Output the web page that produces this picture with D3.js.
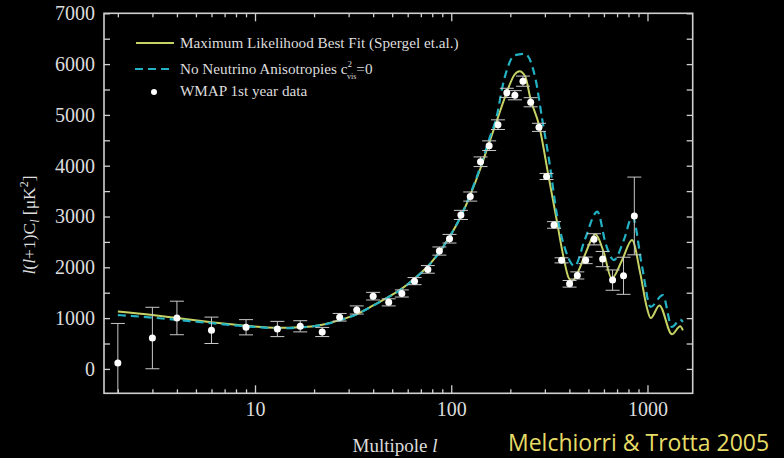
<!DOCTYPE html>
<meta charset="utf-8">
<style>
  body { margin: 0; background: #000; }
  svg { display: block; background: #000; }
  .axis text { font-family: "Liberation Serif", "Times New Roman", serif; font-size: 20px; fill: #ddd; }
  .axis line { stroke: #d0d0d0; stroke-width: 1.3; }
  .axis .domain { display: none; }
  .frame { fill: none; stroke: #d0d0d0; stroke-width: 1.6; }
  .lbl { font-family: "Liberation Serif", "Times New Roman", serif; fill: #ddd; }
  .leg { font-family: "Liberation Serif", "Times New Roman", serif; font-size: 15.2px; fill: #ddd; }
  .credit { font-family: "Open Sans", "Noto Sans", sans-serif; font-size: 23px; fill: #e6dc66; }
  .fit { fill: none; stroke: #c7d264; stroke-width: 2; }
  .nonu { fill: none; stroke: #22b2c4; stroke-width: 2.2; stroke-dasharray: 8 5; }
  .err line { stroke: #c8c8c8; stroke-width: 1; }
  .pts circle { fill: #fff; }
</style>
<body>
<div id="chart"></div>
<script src="https://cdn.jsdelivr.net/npm/d3@7"></script>
<script>
var width = 784, height = 458;
var margin = {left: 104, right: 784 - 692.7, top: 13.3, bottom: 458 - 393.3};

// WMAP 1st year binned points (multipole, l(l+1)Cl, error)
var binL   = [2, 3, 4, 6, 9, 13, 17, 22, 27, 33, 40, 48, 56, 65, 76, 87, 98, 112, 125, 141,
              156, 173, 192, 211, 232, 254, 280, 306, 334, 365, 401, 439, 484, 534, 591, 664, 755, 857];
var binCl  = [115, 608, 1003, 760, 820, 786, 839, 727, 1017, 1160, 1432, 1310, 1485, 1728, 1959, 2320, 2563, 3031, 3393, 4078,
              4394, 4808, 5434, 5387, 5664, 5249, 4755, 3788, 2834, 2137, 1675, 1840, 2137, 2551, 2162, 1748, 1833, 3011];
var binErr = [780, 605, 330, 260, 150, 150, 110, 90, 75, 80, 75, 70, 70, 70, 75, 80, 85, 90, 90, 95,
              95, 95, 90, 90, 100, 90, 80, 60, 65, 50, 65, 70, 65, 110, 150, 200, 365, 765];

// best fit (Spergel et al.)
var fitL  = [2, 3, 4, 6, 9, 13, 17, 22, 27, 33, 40, 48, 56, 65, 76, 87, 98, 112, 125, 141, 156, 173, 192, 210, 223,
             238, 254, 280, 313, 342, 373, 398, 414, 445, 484, 543, 598, 657, 742, 834, 919, 991, 1039, 1150, 1333, 1468, 1515];
var fitCl = [1130, 1060, 1000, 920, 850, 810, 820, 870, 960, 1080, 1250, 1420, 1580, 1780, 2020, 2300, 2600, 3000, 3420, 3950, 4450, 4950, 5450, 5790, 5860,
             5760, 5300, 4800, 3800, 3000, 2210, 1780, 1735, 1930, 2280, 2650, 2300, 1780, 2140, 2540, 1880, 1220, 1000, 1250, 680, 840, 760];

// no neutrino anisotropies, c_vis^2 = 0
var noNuL  = [2, 3, 4, 6, 9, 13, 17, 22, 27, 33, 40, 48, 56, 65, 76, 87, 98, 112, 125, 141, 156, 173, 179, 195, 209, 237,
              269, 291, 315, 347, 385, 425, 480, 555, 614, 674, 760, 837, 940, 1037, 1197, 1333, 1468, 1515];
var noNuCl = [1060, 1010, 965, 900, 840, 800, 815, 865, 955, 1075, 1245, 1415, 1575, 1775, 2015, 2295, 2600, 3010, 3440, 3990, 4520, 5080, 5400, 5960, 6170, 6204,
              5700, 4907, 4117, 3000, 2300, 2024, 2550, 3095, 2450, 2143, 2550, 3000, 2000, 1220, 1451, 826, 971, 925];

var yTicks = d3.range(0, 7001, 500);
var xMajor = [10, 100, 1000];

var x = d3.scaleLog().domain([1.7, 1700]).range([margin.left, width - margin.right]);
var y = d3.scaleLinear().domain([-480, 7000]).range([height - margin.bottom, margin.top]);

var xTicks = [];
[1, 10, 100, 1000].forEach(function (p) {
  for (var i = 1; i < 10; i++) {
    var v = i * p;
    if (v >= 1.7 && v <= 1700) xTicks.push(v);
  }
});

var svg = d3.select('#chart').append('svg')
    .attr('width', width)
    .attr('height', height);

svg.append('defs').append('clipPath').attr('id', 'plot')
  .append('rect')
    .attr('x', margin.left).attr('y', margin.top)
    .attr('width', width - margin.left - margin.right)
    .attr('height', height - margin.top - margin.bottom);

// axes, ticks inward
var isMajor = function (d) { return xMajor.indexOf(d) >= 0; };

svg.append('g').attr('class', 'axis')
    .attr('transform', 'translate(0,' + (height - margin.bottom) + ')')
    .call(d3.axisBottom(x).tickValues(xTicks).tickSize(-4).tickPadding(9)
      .tickFormat(function (d) { return isMajor(d) ? d : ''; }))
  .selectAll('.tick line')
    .attr('y2', function (d) { return isMajor(d) ? -8 : -4; });

svg.append('g').attr('class', 'axis')
    .attr('transform', 'translate(0,' + margin.top + ')')
    .call(d3.axisTop(x).tickValues(xTicks).tickSize(-4).tickFormat(''))
  .selectAll('.tick line')
    .attr('y2', function (d) { return isMajor(d) ? 8 : 4; });

svg.append('g').attr('class', 'axis')
    .attr('transform', 'translate(' + margin.left + ',0)')
    .call(d3.axisLeft(y).tickValues(yTicks).tickSize(-6).tickPadding(9)
      .tickFormat(function (d) { return d % 1000 === 0 ? d : ''; }));

svg.append('g').attr('class', 'axis')
    .attr('transform', 'translate(' + (width - margin.right) + ',0)')
    .call(d3.axisRight(y).tickValues(yTicks).tickSize(-6).tickFormat(''));

svg.append('rect').attr('class', 'frame')
    .attr('x', margin.left).attr('y', margin.top)
    .attr('width', width - margin.left - margin.right)
    .attr('height', height - margin.top - margin.bottom);

var plot = svg.append('g').attr('clip-path', 'url(#plot)');

var line = d3.line()
    .x(function (d) { return x(d[0]); })
    .y(function (d) { return y(d[1]); })
    .curve(d3.curveMonotoneX);

plot.append('path').attr('class', 'fit')
    .attr('d', line(fitL.map(function (l, i) { return [l, fitCl[i]]; })));

plot.append('path').attr('class', 'nonu')
    .attr('d', line(noNuL.map(function (l, i) { return [l, noNuCl[i]]; })));

var bins = binL.map(function (l, i) { return {l: l, v: binCl[i], e: binErr[i]}; });
var cap = 7;

var err = plot.append('g').attr('class', 'err')
  .selectAll('g').data(bins).enter().append('g');
err.append('line')
    .attr('x1', function (d) { return x(d.l); }).attr('x2', function (d) { return x(d.l); })
    .attr('y1', function (d) { return y(d.v - d.e); }).attr('y2', function (d) { return y(d.v + d.e); });
err.append('line')
    .attr('x1', function (d) { return x(d.l) - cap; }).attr('x2', function (d) { return x(d.l) + cap; })
    .attr('y1', function (d) { return y(d.v + d.e); }).attr('y2', function (d) { return y(d.v + d.e); });
err.append('line')
    .attr('x1', function (d) { return x(d.l) - cap; }).attr('x2', function (d) { return x(d.l) + cap; })
    .attr('y1', function (d) { return y(d.v - d.e); }).attr('y2', function (d) { return y(d.v - d.e); });

plot.append('g').attr('class', 'pts')
  .selectAll('circle').data(bins).enter().append('circle')
    .attr('cx', function (d) { return x(d.l); })
    .attr('cy', function (d) { return y(d.v); })
    .attr('r', 3.5);

// legend
var leg = svg.append('g');
leg.append('line').attr('class', 'fit').attr('x1', 136).attr('x2', 174).attr('y1', 43).attr('y2', 43);
leg.append('text').attr('class', 'leg').attr('x', 180).attr('y', 48)
    .text('Maximum Likelihood Best Fit (Spergel et.al.)');
leg.append('line').attr('class', 'nonu').attr('x1', 135).attr('x2', 174).attr('y1', 69).attr('y2', 69);
var t2 = leg.append('text').attr('class', 'leg').attr('x', 180).attr('y', 74);
t2.append('tspan').text('No Neutrino Anisotropies c');
t2.append('tspan').attr('dy', -7).attr('font-size', 9).text('2');
t2.append('tspan').attr('dx', -5).attr('dy', 12).attr('font-size', 8).text('vis');
t2.append('tspan').attr('dy', -5).text('=0');
leg.append('circle').attr('cx', 154).attr('cy', 92).attr('r', 3).attr('fill', '#fff');
leg.append('text').attr('class', 'leg').attr('x', 180).attr('y', 96).text('WMAP 1st year data');

// axis titles
var yl = svg.append('text').attr('class', 'lbl')
    .attr('transform', 'translate(35,225) rotate(-90)')
    .attr('text-anchor', 'middle')
    .attr('font-size', 17.5);
yl.append('tspan').attr('font-style', 'italic').text('l');
yl.append('tspan').text('(');
yl.append('tspan').attr('font-style', 'italic').text('l');
yl.append('tspan').text('+1)C');
yl.append('tspan').attr('font-style', 'italic').attr('font-size', 12).attr('dy', 4).text('l');
yl.append('tspan').attr('dy', -4).text(' [\u03bcK');
yl.append('tspan').attr('font-size', 12).attr('dy', -7).text('2');
yl.append('tspan').attr('dy', 7).text(']');

var xl = svg.append('text').attr('class', 'lbl')
    .attr('x', 395).attr('y', 452)
    .attr('text-anchor', 'middle')
    .attr('font-size', 19);
xl.append('tspan').text('Multipole ');
xl.append('tspan').attr('font-style', 'italic').text('l');

svg.append('text').attr('class', 'credit')
    .attr('x', 508).attr('y', 450.5)
    .text('Melchiorri & Trotta 2005');
</script>
</body>
